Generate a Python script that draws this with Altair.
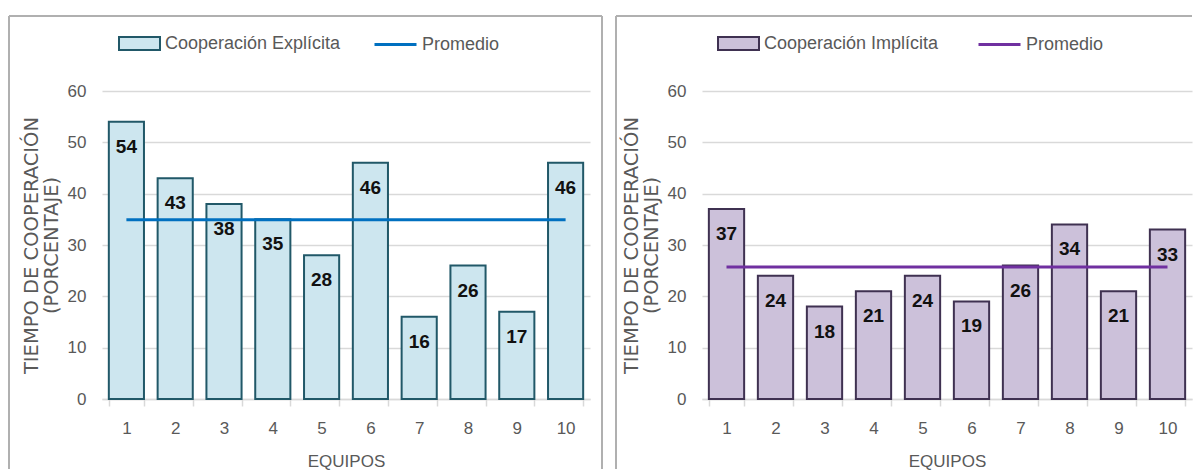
import altair as alt
import pandas as pd

# Team numbers on the x axis
equipos = ["1", "2", "3", "4", "5", "6", "7", "8", "9", "10"]

# Percentage of time spent cooperating, per team
explicita = [54, 43, 38, 35, 28, 46, 16, 26, 17, 46]
implicita = [37, 24, 18, 21, 24, 19, 26, 34, 21, 33]

y_ticks = [0, 10, 20, 30, 40, 50, 60]

GRAY_TEXT = "#595959"
GRID = "#d9d9d9"
NARROW = "Liberation Sans Narrow, Liberation Sans, Arial Narrow, sans-serif"
WIDE = "DejaVu Sans, Verdana, sans-serif"

PLOT_H = 308
RECT_PATH = "M-1,-0.32H1V0.32H-1Z"


def frame_edge(x, y, x2=None, y2=None, color="#b0b0b0"):
    enc = {"x": alt.value(x), "y": alt.value(y)}
    if x2 is not None:
        enc["x2"] = alt.value(x2)
    if y2 is not None:
        enc["y2"] = alt.value(y2)
    return alt.Chart(alt.Data(values=[{"k": 0}])).mark_rule(
        color=color, strokeWidth=2
    ).encode(**enc)


def panel(values, serie, fill, edge, avg_color, width, leg_fill_x, leg_line_x, edges):
    df = pd.DataFrame({
        "equipo": equipos,
        "valor": values,
        "serie": serie,
        "prom": "Promedio",
    })
    base = alt.Chart(df).transform_joinaggregate(promedio="mean(valor)")

    x = alt.X(
        "equipo:N",
        sort=equipos,
        scale=alt.Scale(paddingInner=0.28, paddingOuter=0.14),
        axis=alt.Axis(
            title="EQUIPOS",
            labelAngle=0,
            labelFont=NARROW,
            labelFontSize=17,
            labelColor=GRAY_TEXT,
            labelPadding=14,
            tickBand="extent",
            tickSize=7,
            tickColor=GRID,
            tickWidth=1.5,
            domainColor=GRID,
            domainWidth=1.5,
            titleFont=NARROW,
            titleFontSize=17,
            titleFontWeight="normal",
            titleColor=GRAY_TEXT,
            titlePadding=17,
        ),
    )
    y_axis = alt.Axis(
        title=["TIEMPO DE COOPERACIÓN", "(PORCENTAJE)"],
        values=y_ticks,
        grid=True,
        gridColor=GRID,
        gridWidth=1.5,
        domain=False,
        ticks=False,
        labelFont=NARROW,
        labelFontSize=17,
        labelColor=GRAY_TEXT,
        labelPadding=16,
        titleFont=WIDE,
        titleFontSize=19.5,
        titleFontWeight="normal",
        titleColor=GRAY_TEXT,
        titlePadding=6,
        titleLineHeight=20,
    )
    y_scale = alt.Scale(domain=[0, 60], nice=False)

    legend_common = dict(
        title=None,
        orient="none",
        legendY=-69,
        padding=0,
        labelFont=NARROW,
        labelFontSize=18,
        labelColor=GRAY_TEXT,
        labelOffset=4,
        labelLimit=0,
    )

    bars = base.mark_bar(stroke=edge, strokeWidth=2).encode(
        x=x,
        y=alt.Y("valor:Q", scale=y_scale, axis=y_axis),
        fill=alt.Fill(
            "serie:N",
            scale=alt.Scale(range=[fill]),
            legend=alt.Legend(
                legendX=leg_fill_x,
                symbolType=RECT_PATH,
                symbolSize=1681,
                symbolStrokeColor=edge,
                symbolStrokeWidth=2,
                symbolOpacity=1,
                **legend_common,
            ),
        ),
    )

    avg = base.mark_line(strokeWidth=3).encode(
        x=x,
        y=alt.Y("promedio:Q", scale=y_scale),
        stroke=alt.Stroke(
            "prom:N",
            scale=alt.Scale(range=[avg_color]),
            legend=alt.Legend(
                legendX=leg_line_x,
                symbolType="stroke",
                symbolSize=1764,
                symbolStrokeWidth=3,
                **legend_common,
            ),
        ),
    )

    labels = base.mark_text(
        baseline="middle",
        dy=25,
        font=NARROW,
        fontSize=19,
        fontWeight="bold",
        color="#111111",
    ).encode(
        x=x,
        y=alt.Y("valor:Q", scale=y_scale),
        text=alt.Text("valor:Q"),
    )

    layers = [frame_edge(*e) for e in edges] + [bars, avg, labels]
    return alt.layer(*layers).properties(width=width, height=PLOT_H)


left = panel(
    explicita, "Cooperación Explícita", "#cde6ef", "#215868", "#0070c0",
    488, 16, 271,
    edges=[(-93, -75, 500, None), (-93, -75, None, 378), (500, -75, None, 378)],
)
right = panel(
    implicita, "Cooperación Implícita", "#ccc1da", "#3f3151", "#7030a0",
    490, 15, 275,
    edges=[(-86, -75, 490, None), (-86, -75, None, 378)],
)

chart = (
    alt.hconcat(left, right, spacing=12)
    .resolve_scale(fill="independent", stroke="independent")
    .properties(
        background="white",
        padding={"left": 8, "top": 15, "right": 0, "bottom": 0},
    )
    .configure_view(stroke=None)
)

chart.save("out.html", embed_options={"renderer": "svg", "actions": False})
